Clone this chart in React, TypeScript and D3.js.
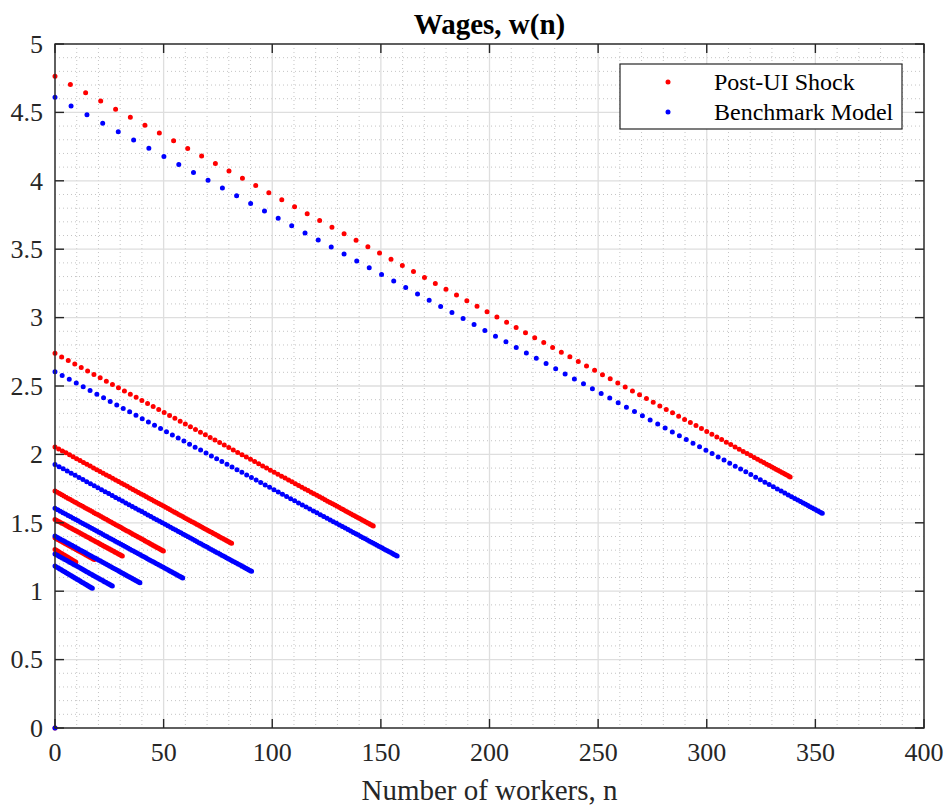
import React from 'react';
import * as d3 from 'd3';

// wage lines, each runs from n = 0 to its last firm size
const redStartW = [4.765, 2.739, 2.055, 1.732, 1.525, 1.39, 1.305];
const redEndN = [338.4, 146.5, 81.3, 49.9, 31.0, 18.2, 9.6];
const redEndW = [1.835, 1.477, 1.35, 1.294, 1.257, 1.231, 1.212];

const blueStartW = [4.61, 2.605, 1.927, 1.606, 1.403, 1.272, 1.184];
const blueEndN = [353.2, 157.5, 90.5, 58.8, 39.1, 26.4, 17.2];
const blueEndW = [1.569, 1.257, 1.145, 1.097, 1.062, 1.038, 1.021];

// the lone point at the origin
const zeroPoint = [0, 0];

const xTicks = [0, 50, 100, 150, 200, 250, 300, 350, 400];
const yTicks = [0, 0.5, 1, 1.5, 2, 2.5, 3, 3.5, 4, 4.5, 5];
const yTickLabels = ['0', '0.5', '1', '1.5', '2', '2.5', '3', '3.5', '4', '4.5', '5'];
const xMinor = d3.range(0, 401, 10).filter(v => v % 50 !== 0);
const yMinor = d3.range(0, 51, 1).filter(v => v % 5 !== 0).map(v => v / 10);

const seriesNames = ['Post-UI Shock', 'Benchmark Model'];
const seriesColors = ['#ff0000', '#0000ff'];

const W = 948;
const H = 808;
const m = { left: 55, right: 924, top: 44, bottom: 728 };
const axisColor = '#262626';
const font = '"Liberation Serif", "Times New Roman", serif';

const x = d3.scaleLinear().domain([0, 400]).range([m.left, m.right]);
const y = d3.scaleLinear().domain([0, 5]).range([m.bottom, m.top]);

// marker spacing gets tighter towards the end of each line, like the solver grid
const dotDash = (len: number) => {
  const K = 95;
  const pos = d3.range(K + 1).map(k => len * (1 - Math.pow(1 - k / K, 2)));
  const k = (len - 0.02) / len;
  return pos.slice(1).map((p, i) => `0 ${((p - pos[i]) * k).toFixed(3)}`).join(' ');
};

const makeSegs = (sw: number[], en: number[], ew: number[]) =>
  sw.map((w0, i) => ({ n0: 0, w0, n1: en[i], w1: ew[i] }));

const series = [
  makeSegs(redStartW, redEndN, redEndW),
  makeSegs(blueStartW, blueEndN, blueEndW),
];

const line = d3.line<[number, number]>().x(d => x(d[0])).y(d => y(d[1]));

export default function App() {
  const tickLen = 9;
  return (
    <svg width={W} height={H} style={{ position: 'absolute', left: 0, top: 0, background: '#fff' }}>
      <rect x={0} y={0} width={W} height={H} fill="#fff" />
      {/* minor grid */}
      <g stroke="#c4c4c4" strokeWidth={1} strokeDasharray="1 3">
        {xMinor.map(v => (
          <line key={'xm' + v} x1={x(v)} x2={x(v)} y1={m.top} y2={m.bottom} />
        ))}
        {yMinor.map(v => (
          <line key={'ym' + v} x1={m.left} x2={m.right} y1={y(v)} y2={y(v)} />
        ))}
      </g>
      {/* major grid */}
      <g stroke="#dedede" strokeWidth={1.3}>
        {xTicks.map(v => (
          <line key={'xg' + v} x1={x(v)} x2={x(v)} y1={m.top} y2={m.bottom} />
        ))}
        {yTicks.map(v => (
          <line key={'yg' + v} x1={m.left} x2={m.right} y1={y(v)} y2={y(v)} />
        ))}
      </g>

      {/* data */}
      {series.map((segs, si) => (
        <g key={'s' + si} stroke={seriesColors[si]} fill="none" strokeWidth={5} strokeLinecap="round">
          {segs.map((s, i) => {
            const len = Math.hypot(x(s.n1) - x(s.n0), y(s.w1) - y(s.w0));
            return (
              <path
                key={i}
                d={line([[s.n0, s.w0], [s.n1, s.w1]]) || ''}
                strokeDasharray={dotDash(len)}
              />
            );
          })}
          <circle cx={x(zeroPoint[0])} cy={y(zeroPoint[1])} r={2.5} fill={seriesColors[si]} stroke="none" />
        </g>
      ))}

      {/* axes box and ticks */}
      <g stroke={axisColor} strokeWidth={1.4} fill="none">
        <rect x={m.left} y={m.top} width={m.right - m.left} height={m.bottom - m.top} />
        {xTicks.map(v => (
          <g key={'xt' + v}>
            <line x1={x(v)} x2={x(v)} y1={m.bottom} y2={m.bottom - tickLen} />
            <line x1={x(v)} x2={x(v)} y1={m.top} y2={m.top + tickLen} />
          </g>
        ))}
        {yTicks.map(v => (
          <g key={'yt' + v}>
            <line x1={m.left} x2={m.left + tickLen} y1={y(v)} y2={y(v)} />
            <line x1={m.right} x2={m.right - tickLen} y1={y(v)} y2={y(v)} />
          </g>
        ))}
      </g>

      {/* tick labels */}
      <g fontFamily={font} fontSize={26} fill={axisColor}>
        {xTicks.map(v => (
          <text key={'xl' + v} x={x(v)} y={m.bottom + 33} textAnchor="middle">
            {String(v)}
          </text>
        ))}
        {yTicks.map((v, i) => (
          <text key={'yl' + v} x={m.left - 12} y={y(v)} dy="0.34em" textAnchor="end">
            {yTickLabels[i]}
          </text>
        ))}
      </g>

      <text x={(m.left + m.right) / 2} y={800} textAnchor="middle" fontFamily={font} fontSize={29} fill={axisColor}>
        Number of workers, n
      </text>
      <text x={(m.left + m.right) / 2} y={34} textAnchor="middle" fontFamily={font} fontSize={29} fontWeight="bold" fill="#000">
        Wages, w(n)
      </text>

      {/* legend */}
      <g>
        <rect x={620} y={64} width={282} height={65} fill="#fff" stroke={axisColor} strokeWidth={1.2} />
        {seriesNames.map((name, i) => (
          <g key={name} transform={`translate(0, ${82 + i * 30})`}>
            <circle cx={668} cy={0} r={2.5} fill={seriesColors[i]} />
            <text x={714} y={0} dy="0.34em" fontFamily={font} fontSize={24} fill="#000">
              {name}
            </text>
          </g>
        ))}
      </g>
    </svg>
  );
}
